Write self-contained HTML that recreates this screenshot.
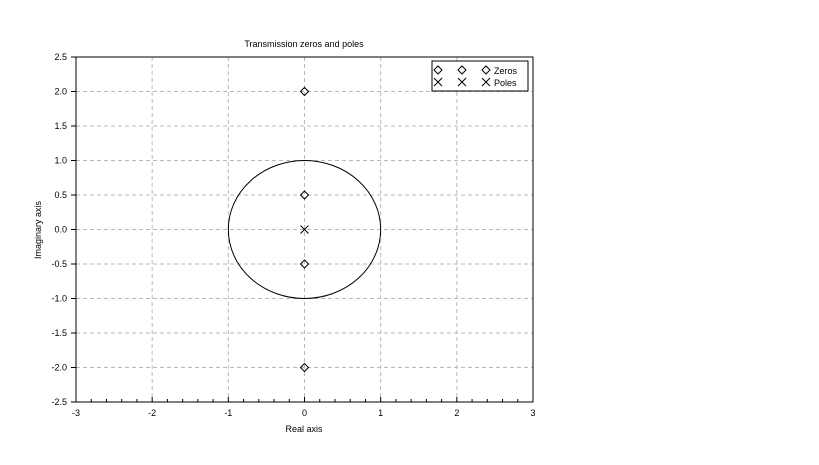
<!DOCTYPE html>
<html><head><meta charset="utf-8"><style>
body{margin:0;background:#fff;}
svg text{font-family:"Liberation Sans",sans-serif;font-size:9px;fill:#000;}
</style></head><body>
<svg id="chart" width="819" height="460" xmlns="http://www.w3.org/2000/svg">
<rect width="819" height="460" fill="#fff"/>
<g id="grid"></g>
<g id="marks"></g>
<g id="axes"></g>
</svg>
<script>
const xTicks=[-3,-2,-1,0,1,2,3];
const yTicks=[-2.5,-2.0,-1.5,-1.0,-0.5,0.0,0.5,1.0,1.5,2.0,2.5];
const zerosRe=[0,0,0,0];
const zerosIm=[2,0.5,-0.5,-2];
const polesRe=[0];
const polesIm=[0];
const L=76,R=533,T=57,B=402;
const sx=v=>L+(v+3)/6*(R-L);
const sy=v=>B-(v+2.5)/5*(B-T);
const NS='http://www.w3.org/2000/svg';
function mk(tag,attrs,parent,text){const e=document.createElementNS(NS,tag);for(const k in attrs)e.setAttribute(k,attrs[k]);if(text!==undefined)e.textContent=text;parent.appendChild(e);return e;}
const grid=document.getElementById('grid'),marks=document.getElementById('marks'),axes=document.getElementById('axes');
xTicks.forEach(v=>{if(v>-3&&v<3){const l=mk('line',{x1:sx(v),x2:sx(v),y1:T,y2:B,stroke:'#b8b8b8','stroke-dasharray':'4,3'},grid);

}
const t=mk('text',{x:sx(v),y:B+14,'text-anchor':'middle'},axes,String(v));


mk('line',{x1:sx(v),x2:sx(v),y1:B,y2:B-5,stroke:'#000'},axes);
if(v<3){for(let i=1;i<5;i++){const xx=sx(v+i/5);mk('line',{x1:xx,x2:xx,y1:B,y2:B-3,stroke:'#000'},axes);}}
});
yTicks.forEach(v=>{if(v>-2.5&&v<2.5){const l=mk('line',{x1:L,x2:R,y1:sy(v),y2:sy(v),stroke:'#b8b8b8','stroke-dasharray':'4,3'},grid);

}
const t=mk('text',{x:L-9,y:sy(v)+3,'text-anchor':'end'},axes,v.toFixed(1));


mk('line',{x1:L-5,x2:L,y1:sy(v),y2:sy(v),stroke:'#000'},axes);
});
mk('rect',{x:L,y:T,width:R-L,height:B-T,fill:'none',stroke:'#000'},axes);
const circ=mk('ellipse',{cx:sx(0),cy:sy(0),rx:sx(1)-sx(0),ry:sy(0)-sy(1),fill:'none',stroke:'#000'},marks);


function diamond(x,y,p){return mk('path',{d:`M${x} ${y-4}L${x+4} ${y}L${x} ${y+4}L${x-4} ${y}Z`,fill:'none',stroke:'#000'},p);}
function cross(x,y,p){return mk('path',{d:`M${x-4} ${y-4}L${x+4} ${y+4}M${x+4} ${y-4}L${x-4} ${y+4}`,stroke:'#000'},p);}
zerosRe.forEach((r,i)=>{const d=diamond(sx(r),sy(zerosIm[i]),marks);

});
polesRe.forEach((r,i)=>{const c=cross(sx(r),sy(polesIm[i]),marks);

});
const lg=mk('g',{},axes);


mk('rect',{x:432,y:61,width:96,height:30,fill:'#fff',stroke:'#000'},lg);
[438,462,486].forEach(x=>{diamond(x,70,lg);cross(x,82,lg);});
mk('text',{x:494,y:74},lg,'Zeros');
mk('text',{x:494,y:86},lg,'Poles');
const ti=mk('text',{x:304,y:47,'text-anchor':'middle'},axes,'Transmission zeros and poles');


const xt=mk('text',{x:304,y:432,'text-anchor':'middle'},axes,'Real axis');


const yt=mk('text',{x:41,y:230,'text-anchor':'middle',transform:'rotate(-90 41 230)'},axes,'Imaginary axis');


</script>
</body></html>
